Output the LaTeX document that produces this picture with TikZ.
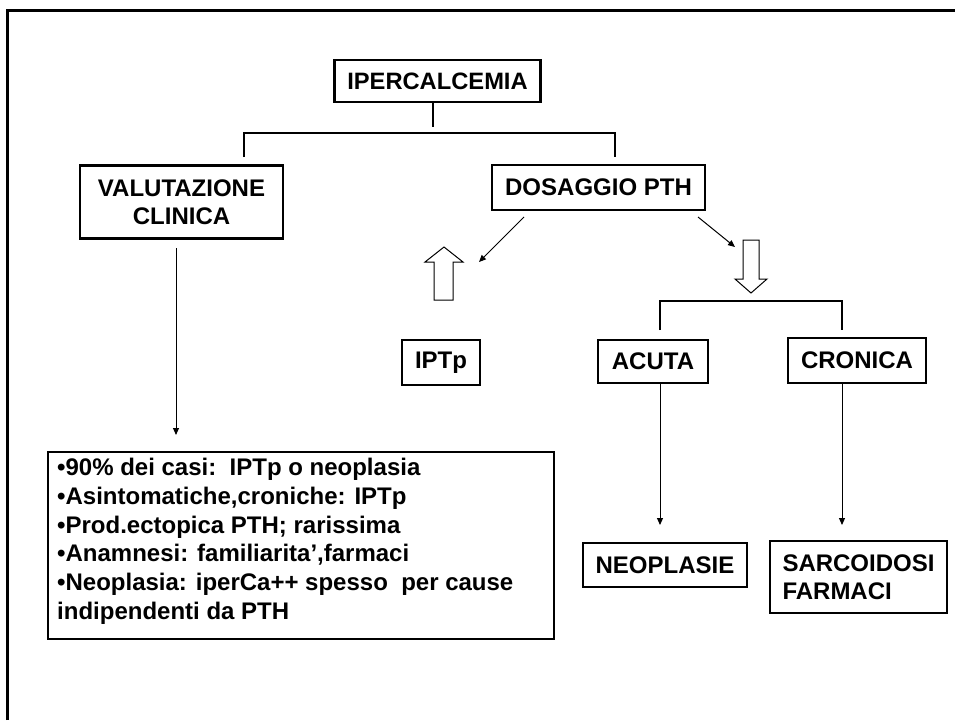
\documentclass[tikz,border=0pt]{standalone}
\usepackage{fontspec}
\setmainfont{Liberation Sans}
\usetikzlibrary{arrows.meta}
\begin{document}
\begin{tikzpicture}[x=1pt,y=-1pt,
  box/.style={draw,line width=2.8pt,inner sep=0pt,font=\fontsize{24}{28}\selectfont\bfseries,align=center},
  tree/.style={line width=2pt},
  thinarrow/.style={line width=1pt,-{Triangle[length=7pt,width=6pt]}},
  blockarrow/.style={draw,line width=1pt,fill=white}]
\useasboundingbox (0,0) rectangle (955,720);
\draw[line width=3pt] (7,720) -- (7,10) -- (955,10);

\node[box,minimum width=206pt,minimum height=42pt,font=\fontsize{23.7}{28}\selectfont\bfseries] (iper) at (437.5,81) {IPERCALCEMIA};
\node[box,minimum width=203pt,minimum height=73pt] (valut) at (181.5,202) {VALUTAZIONE\\CLINICA};
\node[box,minimum width=213pt,minimum height=45pt] (dos) at (598.5,187.5) {DOSAGGIO PTH};
\node[box,minimum width=78pt,minimum height=45pt] (iptp) at (441,362.5) {IPTp};
\node[box,minimum width=110pt,minimum height=43pt] (acuta) at (653,361.5) {ACUTA};
\node[box,minimum width=138pt,minimum height=45pt] (cron) at (857,360.5) {CRONICA};
\node[box,minimum width=164pt,minimum height=44pt] (neo) at (665,565) {NEOPLASIE};
\node[box,minimum width=177pt,minimum height=72pt,align=left] (sarc) at (858.5,577) {SARCOIDOSI\\FARMACI};

\node[draw,line width=2.8pt,minimum width=506pt,minimum height=187pt,inner sep=0pt,outer sep=0pt,anchor=north west] (clin) at (48,452) {};
\node[anchor=north west,inner sep=0pt,align=left,font=\fontsize{24}{28.7}\selectfont\bfseries] (clintext) at ([xshift=9pt,yshift=-6pt]clin.north west)
{•90\% dei casi:\ \ IPTp o neoplasia\\
•Asintomatiche,croniche: IPTp\\
•Prod.ectopica PTH; rarissima\\
•Anamnesi: familiarita’,farmaci\\
•Neoplasia: iperCa++ spesso\ \ per cause\\
indipendenti da PTH};

% first tree
\coordinate (b1m) at (433,133);
\coordinate (b1l) at (244,133);
\coordinate (b1r) at (615,133);
\draw[tree] (iper.south -| b1m) -- ([yshift=6pt]b1m);
\draw[tree] ([yshift=-24pt]b1l) -- (b1l) -- (b1r) -- ([yshift=-24pt]b1r);

% second tree
\coordinate (b2l) at (660,301);
\coordinate (b2r) at (842,301);
\draw[tree] ([yshift=-29pt]b2l) -- (b2l) -- (b2r) -- ([yshift=-29pt]b2r);

% thin arrows
\coordinate (a1s) at (176,248);
\coordinate (a1e) at (176,435);
\draw[thinarrow] (a1s) -- (a1e);
\coordinate (a2s) at (524,217);
\coordinate (a2e) at (479,262);
\draw[thinarrow] (a2s) -- (a2e);
\coordinate (a3s) at (698,217);
\coordinate (a3e) at (735,247);
\draw[thinarrow] (a3s) -- (a3e);
\coordinate (a4e) at (660,525);
\draw[thinarrow] (acuta.south -| a4e) -- (a4e);
\coordinate (a5e) at (842,525);
\draw[thinarrow] (cron.south -| a5e) -- (a5e);

% block arrows
\draw[blockarrow] (434,300) -- (434,262) -- (425,262) -- (444,247) -- (463,262) -- (453,262) -- (453,300) -- cycle;
\draw[blockarrow] (743,240) -- (759,240) -- (759,279) -- (767,279) -- (751,293) -- (735,279) -- (743,279) -- cycle;
\end{tikzpicture}
\end{document}
